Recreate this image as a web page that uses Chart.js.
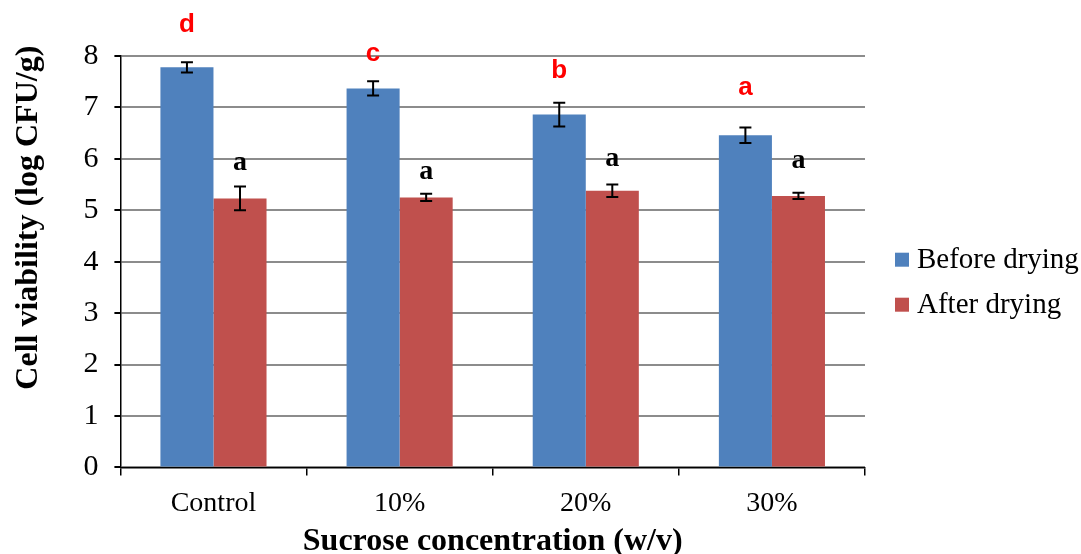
<!DOCTYPE html>
<html lang="en">
<head>
  <meta charset="UTF-8" />
  <title>Cell viability</title>
  <script src="https://cdn.jsdelivr.net/npm/chart.js"></script>
  <style>
    html, body { margin: 0; padding: 0; background: #fff; }
    #wrap { width: 1081px; height: 554px; }
  </style>
</head>
<body>
  <div id="wrap"><canvas id="grafico"></canvas></div>

  <script>
    // dados
    const categorias = ['Control', '10%', '20%', '30%'];
    const antesSecagem = [7.78, 7.37, 6.86, 6.46];
    const depoisSecagem = [5.23, 5.25, 5.38, 5.28];
    const erroAntes = [0.10, 0.14, 0.23, 0.15];
    const erroDepois = [0.23, 0.07, 0.12, 0.06];
    const letrasAntes = ['d', 'c', 'b', 'a'];
    const letrasDepois = ['a', 'a', 'a', 'a'];
    // altura (em log CFU/g) onde cada letra fica
    const alturaLetrasAntes = [8.6, 8.05, 7.72, 7.39];
    const alturaLetrasDepois = [5.93, 5.74, 6.01, 5.97];
    const ticksY = [0, 1, 2, 3, 4, 5, 6, 7, 8];
    const tituloY = 'Cell viability (log CFU/g)';

    const serif = '"Liberation Serif", "Times New Roman", serif';

    // barras de erro desenhadas sobre as barras
    const barrasErro = {
      id: 'barrasErro',
      afterDatasetsDraw(chart) {
        const ctx = chart.ctx;
        const y = chart.scales.y;
        const erros = [erroAntes, erroDepois];
        ctx.save();
        ctx.strokeStyle = '#000';
        ctx.lineWidth = 2;
        chart.data.datasets.forEach((ds, i) => {
          chart.getDatasetMeta(i).data.forEach((bar, j) => {
            const v = ds.data[j];
            const topo = y.getPixelForValue(v + erros[i][j]);
            const base = y.getPixelForValue(v - erros[i][j]);
            ctx.beginPath();
            ctx.moveTo(bar.x, topo); ctx.lineTo(bar.x, base);
            ctx.moveTo(bar.x - 6, topo); ctx.lineTo(bar.x + 6, topo);
            ctx.moveTo(bar.x - 6, base); ctx.lineTo(bar.x + 6, base);
            ctx.stroke();
          });
        });
        ctx.restore();
      }
    };

    // letras de significancia
    const letras = {
      id: 'letras',
      afterDatasetsDraw(chart) {
        const ctx = chart.ctx;
        const y = chart.scales.y;
        ctx.save();
        ctx.textAlign = 'center';
        ctx.textBaseline = 'middle';
        chart.getDatasetMeta(0).data.forEach((bar, j) => {
          ctx.fillStyle = '#FF0000';
          ctx.font = 'bold 26px "Liberation Sans", Arial, sans-serif';
          ctx.fillText(letrasAntes[j], bar.x, y.getPixelForValue(alturaLetrasAntes[j]));
        });
        chart.getDatasetMeta(1).data.forEach((bar, j) => {
          ctx.fillStyle = '#000';
          ctx.font = 'bold 28px ' + serif;
          ctx.fillText(letrasDepois[j], bar.x, y.getPixelForValue(alturaLetrasDepois[j]));
        });
        ctx.restore();
      }
    };

    // legenda a direita e titulo do eixo y (um pouco acima do meio, como no original)
    const legenda = {
      id: 'legenda',
      afterDraw(chart) {
        const ctx = chart.ctx;
        const area = chart.chartArea;
        const meio = (area.top + area.bottom) / 2;
        ctx.save();
        ctx.font = '29px ' + serif;
        ctx.textBaseline = 'middle';
        ctx.textAlign = 'left';
        chart.data.datasets.forEach((ds, i) => {
          const yc = meio - 2 + i * 45;
          ctx.fillStyle = ds.backgroundColor;
          ctx.fillRect(area.right + 30, yc - 7, 14, 14);
          ctx.fillStyle = '#000';
          ctx.fillText(ds.label, area.right + 52, yc + 1);
        });

        ctx.translate(chart.scales.y.left + 21, meio - 44);
        ctx.rotate(-Math.PI / 2);
        ctx.textAlign = 'center';
        ctx.font = 'bold 32px ' + serif;
        ctx.fillText(tituloY, 0, 0);
        ctx.restore();
      }
    };

    new Chart(document.getElementById('grafico'), {
      type: 'bar',
      data: {
        labels: categorias,
        datasets: [
          { label: 'Before drying', data: antesSecagem, backgroundColor: '#4F81BD' },
          { label: 'After drying', data: depoisSecagem, backgroundColor: '#C0504D' }
        ]
      },
      options: {
        responsive: true,
        maintainAspectRatio: false,
        animation: false,
        categoryPercentage: 0.57,
        barPercentage: 1.0,
        layout: { padding: { top: 56, left: 8, right: 216, bottom: 0 } },
        plugins: {
          legend: { display: false },
          tooltip: { enabled: false }
        },
        scales: {
          x: {
            grid: {
              drawOnChartArea: false,
              drawTicks: true,
              tickLength: 8,
              color: '#000',
              lineWidth: 1.5
            },
            border: { color: '#000', width: 1.5 },
            ticks: { color: '#000', padding: 11, font: { family: serif, size: 28 } },
            title: {
              display: true,
              text: 'Sucrose concentration (w/v)',
              color: '#000',
              padding: { top: -5, bottom: -4 },
              font: { family: serif, size: 32, weight: 'bold', lineHeight: 1 }
            }
          },
          y: {
            min: 0,
            max: 8,
            afterBuildTicks: axis => { axis.ticks = ticksY.map(v => ({ value: v })); },
            grid: {
              color: '#8C8C8C',
              lineWidth: 2,
              tickLength: 6,
              tickColor: '#000'
            },
            border: { color: '#000', width: 1.5 },
            ticks: { color: '#000', padding: 16, font: { family: serif, size: 30 } },
            // titulo so reserva o espaco; o texto e desenhado pelo plugin
            title: {
              display: true,
              text: tituloY,
              color: 'rgba(0,0,0,0)',
              padding: { top: 0, bottom: 21 },
              font: { family: serif, size: 32, weight: 'bold' }
            }
          }
        }
      },
      plugins: [barrasErro, letras, legenda]
    });
  </script>
</body>
</html>
